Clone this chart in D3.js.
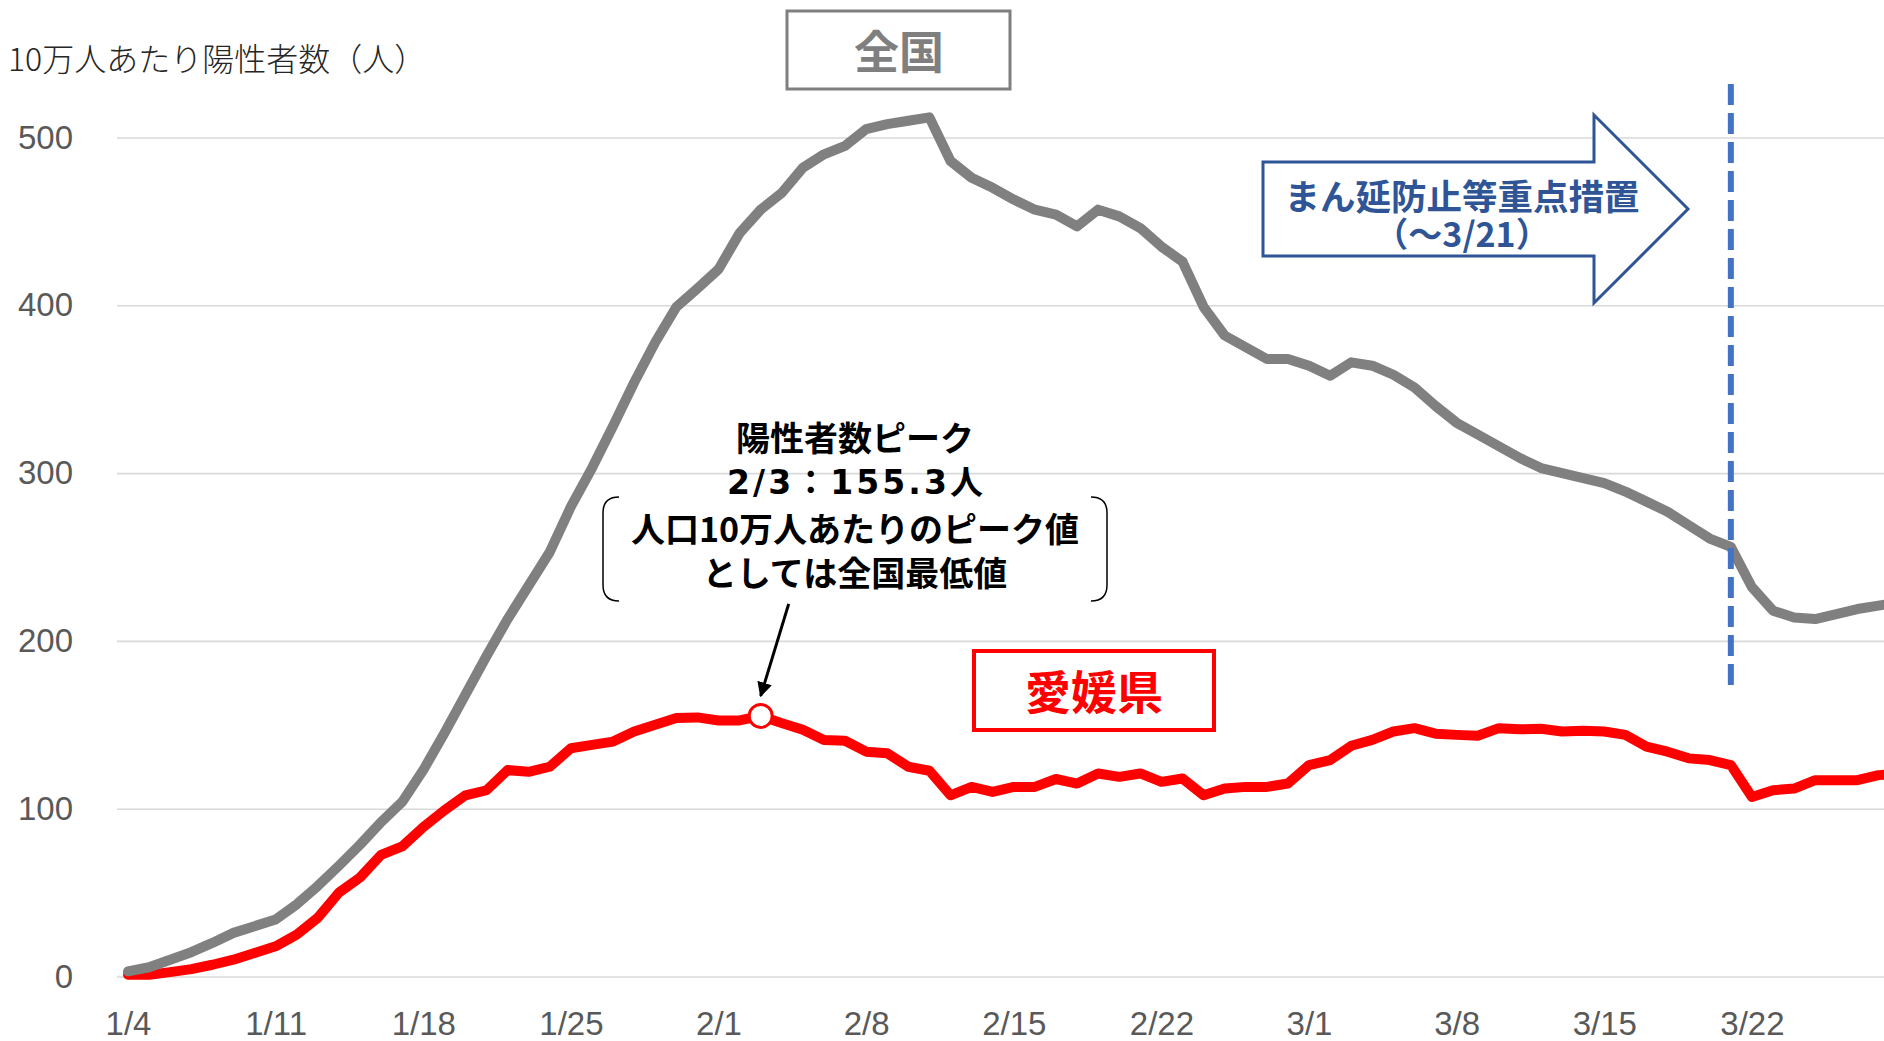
<!DOCTYPE html>
<html>
<head>
<meta charset="utf-8">
<script src="https://cdn.jsdelivr.net/npm/d3@7"></script>
<style>
  body { margin: 0; background: #fff; }
  svg { display: block; }
</style>
</head>
<body>
<script>
/* 10万人あたり陽性者数 : 全国 vs 愛媛県, one value per day from 1/4 */

var startDate = '2021/1/4';

// 全国 (gray)
var zenkoku = [3, 5.5, 10, 14.5, 20, 26, 30, 34, 43, 54,
               66, 78.5, 92, 104, 123, 145, 168, 191, 213, 233,
               253, 280, 303, 328, 354, 378, 399, 410, 421.5, 443,
               457, 467, 482, 490, 495, 505, 508, 510, 512, 486,
               476, 470, 463, 457, 454, 447, 457, 453, 446, 435,
               426, 399, 382, 375, 368, 368, 364, 358, 366, 364,
               358.6, 351, 340, 330, 323, 316, 309, 303, 300, 297,
               294, 289, 283, 277, 269, 261, 256, 232, 218, 214,
               213, 216, 219, 221, 223];

// 愛媛県 (red)
var ehime = [1, 1, 2.6, 4.4, 7, 10, 14, 18, 25, 35,
             50, 59, 72.5, 77.5, 89, 99, 108, 111, 123, 122,
             125, 136, 138, 140, 146, 150, 154, 154.4, 152.6, 152.6,
             155.3, 151, 147, 141, 140.5, 134, 133, 125, 122.6, 108,
             113, 110, 113, 113, 117.7, 115, 121, 119, 121, 116,
             118, 108, 112, 113, 113, 115, 126, 129, 137.5, 141,
             146, 148, 144.7, 144, 143.5, 148, 147.3, 147.6, 146, 146.5,
             146, 144, 137, 134, 130, 129, 126, 107, 111, 112,
             117, 117, 117, 120, 121];

var xTickLabels = ['1/4', '1/11', '1/18', '1/25', '2/1', '2/8', '2/15', '2/22', '3/1', '3/8', '3/15', '3/22'];
var yTicks = [0, 100, 200, 300, 400, 500];

var peakDate = '2/3';
var peakValue = 155.3;
var measureEnd = '3/21';

var annotationLines = ['陽性者数ピーク', '2/3：155.3人', '人口10万人あたりのピーク値', 'としては全国最低値'];
var measureLines = ['まん延防止等重点措置', '（～3/21）'];

// ---------------------------------------------------------------
var W = 1884, H = 1041;
var numFont = "'Liberation Sans', Arial, sans-serif";
var jpFont = "'Noto Sans CJK JP', 'Noto Sans', sans-serif";

var parse = d3.timeParse('%Y/%m/%d');
var day0 = parse(startDate);
function md(s){ return parse('2021/' + s); }

var dates = zenkoku.map(function(v, i){ return d3.timeDay.offset(day0, i); });

var x = d3.scaleTime()
    .domain([day0, d3.timeDay.offset(day0, 84)])
    .range([128, 128 + 84 * 21.09]);
var y = d3.scaleLinear().domain([0, 500]).range([976.5, 137.5]);

var svg = d3.select('body').append('svg')
    .attr('width', W)
    .attr('height', H)
    .style('background', '#fff');

// y axis + gridlines
var yAxis = svg.append('g')
    .attr('transform', 'translate(117,0)')
    .call(d3.axisLeft(y).tickValues(yTicks).tickSize(-(W - 117)).tickPadding(44).tickFormat(d3.format('d')));
yAxis.select('.domain').remove();
yAxis.selectAll('line').attr('stroke', '#d9d9d9').attr('stroke-width', 1.6);
yAxis.selectAll('text')
    .attr('fill', '#595959')
    .style('font-family', numFont)
    .style('font-size', '33px');

// x axis labels
var xAxis = svg.append('g')
    .attr('transform', 'translate(0,' + y(0) + ')')
    .call(d3.axisBottom(x).tickValues(xTickLabels.map(md)).tickSize(0).tickPadding(35)
        .tickFormat(d3.timeFormat('%-m/%-d')));
xAxis.select('.domain').remove();
xAxis.selectAll('text')
    .attr('fill', '#595959')
    .style('font-family', numFont)
    .style('font-size', '33px');

// axis title
svg.append('text')
    .attr('x', 8).attr('y', 57)
    .attr('dominant-baseline', 'central')
    .attr('fill', '#262626')
    .style('font-family', jpFont)
    .style('font-weight', 300)
    .style('font-size', '32px')
    .text('10万人あたり陽性者数（人）');

var line = d3.line()
    .x(function(d, i){ return x(dates[i]); })
    .y(function(d){ return y(d); });

svg.append('path')
    .attr('d', line(ehime))
    .attr('fill', 'none')
    .attr('stroke', '#ff0000')
    .attr('stroke-width', 10)
    .attr('stroke-linejoin', 'round')
    .attr('stroke-linecap', 'round');

svg.append('path')
    .attr('d', line(zenkoku))
    .attr('fill', 'none')
    .attr('stroke', '#808080')
    .attr('stroke-width', 10)
    .attr('stroke-linejoin', 'round')
    .attr('stroke-linecap', 'round');

// end of measures : dashed vertical line
var xEnd = x(md(measureEnd));
svg.append('line')
    .attr('x1', xEnd).attr('x2', xEnd)
    .attr('y1', 84).attr('y2', 690)
    .attr('stroke', '#4472c4')
    .attr('stroke-width', 6)
    .attr('stroke-dasharray', '21 8');

// block arrow
var ax0 = 1263, axB = 1594, axT = 1688, acy = 209;
svg.append('polygon')
    .attr('points', [[ax0, acy - 47], [axB, acy - 47], [axB, acy - 94], [axT, acy],
                     [axB, acy + 94], [axB, acy + 47], [ax0, acy + 47]].join(' '))
    .attr('fill', '#fff')
    .attr('stroke', '#2f5597')
    .attr('stroke-width', 3);

svg.selectAll('.measureText').data(measureLines).enter().append('text')
    .attr('x', 1462)
    .attr('y', function(d, i){ return 194 + i * 38; })
    .attr('text-anchor', 'middle')
    .attr('dominant-baseline', 'central')
    .attr('fill', '#2f5597')
    .style('font-family', jpFont)
    .style('font-weight', 700)
    .style('font-size', function(d, i){ return i == 0 ? '35.5px' : '34px'; })
    .text(function(d){ return d; });

// 全国 label box
svg.append('rect')
    .attr('x', 787).attr('y', 11).attr('width', 223).attr('height', 78)
    .attr('fill', '#fff').attr('stroke', '#7f7f7f').attr('stroke-width', 3);
svg.append('text')
    .attr('x', 899).attr('y', 49)
    .attr('text-anchor', 'middle').attr('dominant-baseline', 'central')
    .attr('fill', '#7f7f7f')
    .style('font-family', jpFont).style('font-weight', 700).style('font-size', '45px')
    .text('全国');

// 愛媛県 label box
svg.append('rect')
    .attr('x', 974).attr('y', 651).attr('width', 240).attr('height', 79)
    .attr('fill', '#fff').attr('stroke', '#ff0000').attr('stroke-width', 4);
svg.append('text')
    .attr('x', 1094).attr('y', 689)
    .attr('text-anchor', 'middle').attr('dominant-baseline', 'central')
    .attr('fill', '#ff0000')
    .style('font-family', jpFont).style('font-weight', 700).style('font-size', '46px')
    .text('愛媛県');

// peak annotation
svg.selectAll('.annText').data(annotationLines).enter().append('text')
    .attr('x', 855)
    .attr('y', function(d, i){ return [436, 482, 527, 571][i]; })
    .attr('text-anchor', 'middle')
    .attr('dominant-baseline', 'central')
    .attr('fill', '#000')
    .style('font-family', function(d, i){
        // digits of the date/value line are wider in the original
        return i == 1 ? "'DejaVu Sans', " + jpFont : jpFont;
    })
    .style('font-weight', 700)
    .style('font-size', function(d, i){ return i == 1 ? '33px' : '34px'; })
    .each(function(d, i){
        if (i == 1) d3.select(this).attr('textLength', 256).attr('lengthAdjust', 'spacing');
    })
    .text(function(d){ return d; });

// bracket pair around the last two lines
svg.append('path')
    .attr('d', 'M619,497 Q603,497 603,513 L603,585 Q603,601 619,601'
             + ' M1091,497 Q1107,497 1107,513 L1107,585 Q1107,601 1091,601')
    .attr('fill', 'none')
    .attr('stroke', '#000')
    .attr('stroke-width', 1.5);

var px = x(md(peakDate)), py = y(peakValue);

svg.append('defs').append('marker')
    .attr('id', 'head')
    .attr('viewBox', '0 0 10 10')
    .attr('refX', 9).attr('refY', 5)
    .attr('markerWidth', 5).attr('markerHeight', 5)
    .attr('markerUnits', 'strokeWidth')
    .attr('orient', 'auto')
    .append('path').attr('d', 'M0,0 L10,5 L0,10 z').attr('fill', '#000');

svg.append('line')
    .attr('x1', px + 28).attr('y1', py - 112)
    .attr('x2', px).attr('y2', py - 20)
    .attr('stroke', '#000')
    .attr('stroke-width', 3)
    .attr('marker-end', 'url(#head)');

svg.append('circle')
    .attr('cx', px).attr('cy', py).attr('r', 11.5)
    .attr('fill', '#fff')
    .attr('stroke', '#ff0000')
    .attr('stroke-width', 3);
</script>
</body>
</html>
